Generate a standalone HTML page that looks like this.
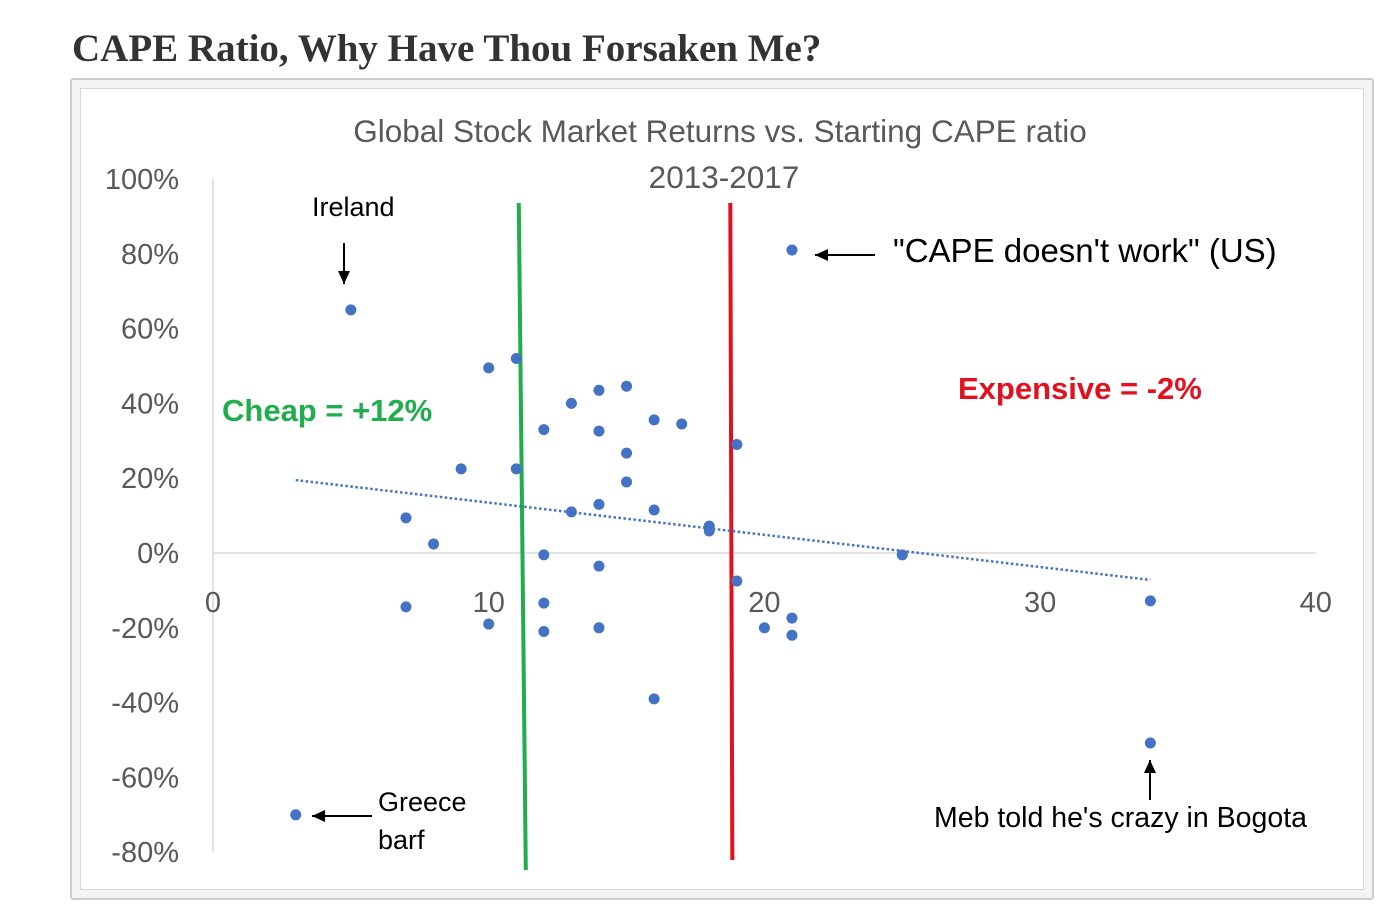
<!DOCTYPE html>
<html><head><meta charset="utf-8"><style>
body{margin:0;background:#fff;width:1400px;height:910px;overflow:hidden;font-family:"Liberation Sans",sans-serif}
#h{position:absolute;left:72px;top:26px;font:bold 39px "Liberation Serif",serif;color:#333;margin:0}
#frame{position:absolute;left:70px;top:78px;width:1300px;height:818px;border:2px solid #ccc;border-radius:3px;background:#f4f4f4}
#inner{position:absolute;left:8px;top:8px;width:1282px;height:800px;background:#fff;border:1px solid #d8d8d8}
svg{position:absolute;left:0;top:0}
</style></head><body>
<h1 id="h">CAPE Ratio, Why Have Thou Forsaken Me?</h1>
<div id="frame"><div id="inner"></div></div>
<svg id="c" width="1400" height="910" font-family="Liberation Sans, sans-serif"></svg>
<script>
const xTicks=[0,10,20,30,40];
const yTicks=[100,80,60,40,20,0,-20,-40,-60,-80];
const capeValues=[5,10,11,12,13,14,15,14,15,16,17,19,9,11,15,7,8,13,14,16,18,18,12,14,19,25,21,7,10,12,12,14,20,21,21,16,34,34,3];
const returnValues=[65,49.5,52,33,40,43.5,44.6,32.6,26.7,35.6,34.5,29,22.5,22.5,19,9.4,2.4,11,13,11.5,7.2,5.9,-0.5,-3.5,-7.5,-0.5,81,-14.4,-19,-13.4,-21,-20,-20,-17.4,-22,-39,-12.8,-50.8,-70];
const trendStart=[3,19.5], trendEnd=[34,-7.2];
const cheapCape=11.2, expensiveCape=18.8;
const X=v=>213+v*27.57, Y=v=>553-v*3.74;
const s=document.getElementById('c');const NS='http://www.w3.org/2000/svg';
function el(t,a,txt){const e=document.createElementNS(NS,t);for(const k in a)e.setAttribute(k,a[k]);if(txt!=null)e.textContent=txt;s.appendChild(e);return e;}
let e;
e=el('line',{x1:X(0),y1:Y(100),x2:X(0),y2:Y(-80),stroke:'#d9d9d9','stroke-width':1.5});


e=el('line',{x1:X(0),y1:Y(0),x2:X(40),y2:Y(0),stroke:'#d9d9d9','stroke-width':1.5});


yTicks.forEach(v=>{e=el('text',{x:179,y:Y(v)+10,'text-anchor':'end','font-size':29,fill:'#595959'},v+'%');

});
xTicks.forEach(v=>{e=el('text',{x:X(v),y:612,'text-anchor':'middle','font-size':29,fill:'#595959'},v);

});
e=el('text',{x:720,y:142,'text-anchor':'middle','font-size':31.5,fill:'#595959'},'Global Stock Market Returns vs. Starting CAPE ratio');


e=el('text',{x:724,y:188,'text-anchor':'middle','font-size':31.5,fill:'#595959'},'2013-2017');


e=el('line',{x1:X(cheapCape)-3,y1:203,x2:X(cheapCape)+4,y2:870,stroke:'#1fae4b','stroke-width':4});


e=el('line',{x1:X(expensiveCape)-1,y1:203,x2:X(expensiveCape)+1,y2:860,stroke:'#e3101e','stroke-width':4});


e=el('line',{x1:X(trendStart[0]),y1:Y(trendStart[1]),x2:X(trendEnd[0]),y2:Y(trendEnd[1]),stroke:'#4472c4','stroke-width':2.5,'stroke-dasharray':'2.5 2.5'});


capeValues.forEach((c,i)=>{e=el('circle',{cx:X(c),cy:Y(returnValues[i]),r:5.5,fill:'#4472c4'});

});
const labels=[['Ireland',312,216,27,'#000','normal','ireland-label'],['"CAPE doesn\'t work" (US)',893,262,33,'#000','normal','us-label'],['Cheap = +12%',222,421,31,'#1fae4b','bold','cheap-label'],['Expensive = -2%',958,399,31,'#e3101e','bold','expensive-label'],['Greece',378,811,27,'#000','normal','greece-label'],['barf',378,849,27,'#000','normal','barf-label'],["Meb told he's crazy in Bogota",934,827,28.5,'#000','normal','bogota-label']];
labels.forEach(l=>{e=el('text',{x:l[1],y:l[2],'font-size':l[3],fill:l[4],'font-weight':l[5]},l[0]);

});
function arrow(x1,y1,x2,y2,n){e=el('line',{x1,y1,x2,y2,stroke:'#000','stroke-width':2});


const a=Math.atan2(y2-y1,x2-x1),L=13,w=6;
el('polygon',{points:`${x2},${y2} ${x2-L*Math.cos(a)+w*Math.sin(a)},${y2-L*Math.sin(a)-w*Math.cos(a)} ${x2-L*Math.cos(a)-w*Math.sin(a)},${y2-L*Math.sin(a)+w*Math.cos(a)}`,fill:'#000'});}
arrow(344,243,344,284,'ireland-arrow');
arrow(875,255,815,255,'us-arrow');
arrow(372,816,312,816,'greece-arrow');
arrow(1150,800,1150,760,'bogota-arrow');
</script>
</body></html>
